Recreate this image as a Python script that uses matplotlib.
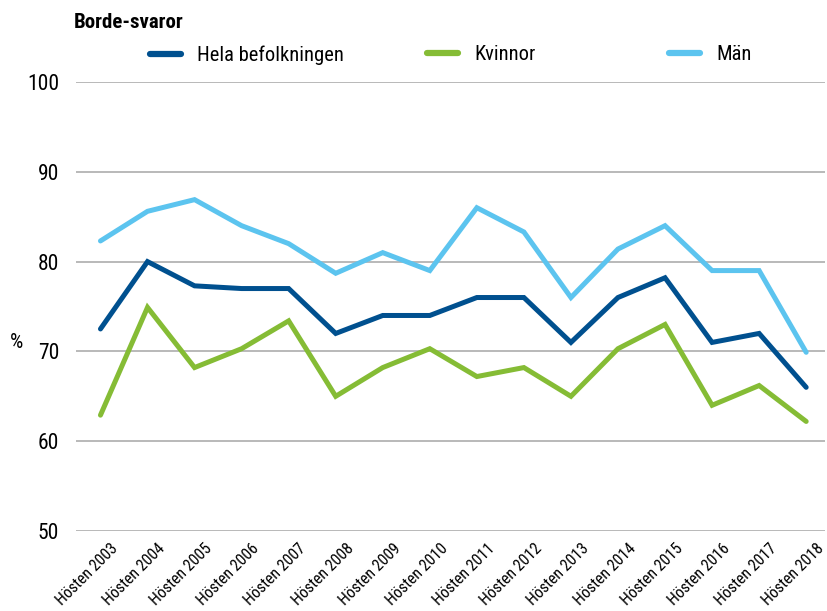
import matplotlib
matplotlib.use("Agg")
import matplotlib.pyplot as plt
import matplotlib.transforms as mtransforms
from matplotlib import font_manager
from matplotlib.lines import Line2D

years = list(range(2003, 2019))
labels = [f"Hösten {y}" for y in years]
hela = [72.5, 80.0, 77.3, 77.0, 77.0, 72.0, 74.0, 74.0, 76.0, 76.0, 71.0, 76.0, 78.2, 71.0, 72.0, 66.0]
kvinnor = [62.9, 74.9, 68.2, 70.3, 73.4, 65.0, 68.2, 70.3, 67.2, 68.2, 65.0, 70.3, 73.0, 64.0, 66.2, 62.2]
man = [82.3, 85.6, 86.9, 84.0, 82.0, 78.7, 81.0, 79.0, 86.0, 83.3, 76.0, 81.4, 84.0, 79.0, 79.0, 69.9]
series_names = ["Hela befolkningen", "Kvinnor", "Män"]
colors = ["#00508f", "#85bc35", "#5cc4ef"]

avail = {f.name for f in font_manager.fontManager.ttflist}
fam = [f for f in ["Roboto Condensed", "Liberation Sans Narrow", "DejaVu Sans Condensed"] if f in avail] + ["DejaVu Sans"]
plt.rcParams['font.family'] = fam

W, H = 827, 611
fig = plt.figure(figsize=(W / 100, H / 100), dpi=100)
ax_left, ax_right, ax_top, ax_bot = 76, 825, 82, 531
ax = fig.add_axes([ax_left / W, 1 - ax_bot / H, (ax_right - ax_left) / W, (ax_bot - ax_top) / H])
x = list(range(len(years)))
lines = []
for vals, name, c in zip([hela, kvinnor, man], series_names, colors):
    ln, = ax.plot(x, vals, color=c, lw=3.6, label=name, solid_capstyle='round', solid_joinstyle='miter')
    lines.append(ln)

ax.set_ylim(50, 100)
ax.set_yticks([50, 60, 70, 80, 90, 100])
ax.set_xlim(-0.52, 15.4)
ax.grid(axis='y', color='#b3b3b3', lw=1.3)
ax.set_axisbelow(True)
for s in ax.spines.values():
    s.set_visible(False)
ax.tick_params(axis='both', length=0)
ax.tick_params(axis='y', labelsize=15.5, pad=12)
ax.set_xticks(x)
ax.set_xticklabels(labels, rotation=45, ha='right', va='top', rotation_mode='anchor', fontsize=11.5)
ax.tick_params(axis='x', pad=7)
offset = mtransforms.ScaledTranslation(10 / 100, 0, fig.dpi_scale_trans)
for lab in ax.get_xticklabels():
    lab.set_transform(lab.get_transform() + offset)

fig.text(10 / W, 1 - 343 / H, "%", fontsize=15, ha='left', va='center')
fig.text(74 / W, 1 - 22 / H, "Borde-svaror", fontsize=15, fontweight='bold', ha='left', va='center')

leg_x = [150, 427, 669]
for ln, name, c, lx in zip(lines, series_names, colors, leg_x):
    h = Line2D([], [], color=c, lw=4.5, solid_capstyle='round')
    lg = fig.legend([h], [name], loc='center left', bbox_to_anchor=(lx / W, 1 - 55 / H),
                    frameon=False, fontsize=14.8, handlelength=1.5, handletextpad=0.8,
                    borderpad=0, borderaxespad=0)
fig.savefig("out.png", dpi=100)
